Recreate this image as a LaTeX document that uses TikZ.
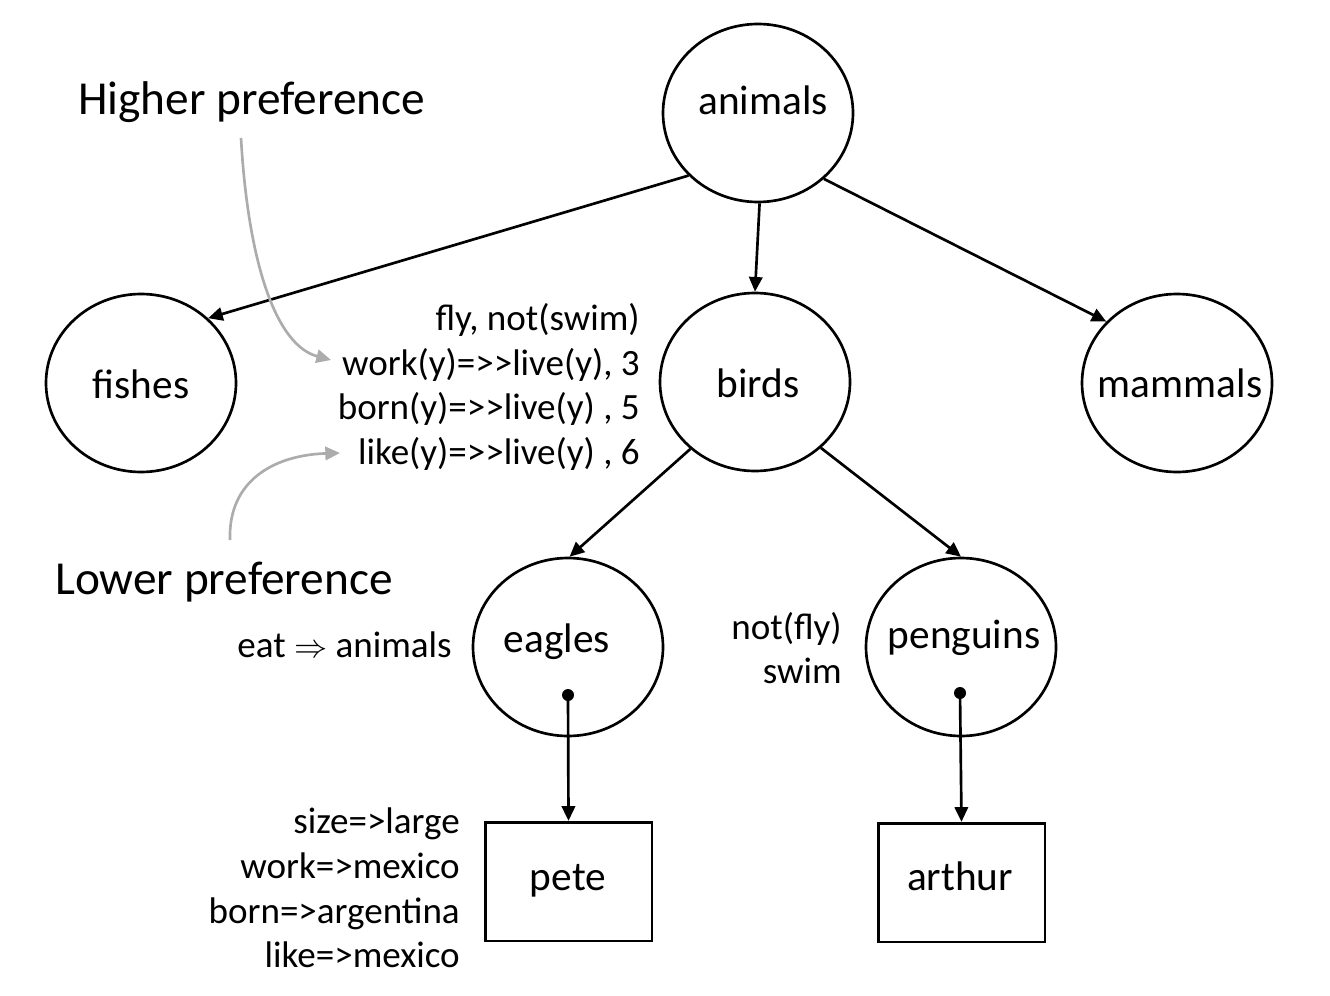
\documentclass[tikz,border=0pt]{standalone}
\usepackage{fontspec}
\setmainfont{Carlito}
\usetikzlibrary{arrows.meta,shapes.geometric}
\begin{document}
\begin{tikzpicture}[x=0.75pt,y=-0.75pt,
 oval/.style={draw,ellipse,line width=2pt,inner sep=0pt,minimum width=142.5pt,minimum height=133.5pt},
 box/.style={draw,rectangle,line width=2pt,inner sep=0pt,minimum width=125pt,minimum height=89pt},
 lbl/.style={inner sep=0pt,anchor=base,font=\fontsize{31}{37}\selectfont},
 side/.style={align=right,anchor=east,inner sep=0pt,font=\fontsize{27.8}{33.5}\selectfont},
 big/.style={inner sep=0pt,anchor=west,font=\fontsize{35.5}{42}\selectfont},
 arr/.style={line width=2pt,-{Triangle[length=11pt,width=10pt]}},
 garr/.style={draw=gray!65,line width=2pt,-{Triangle[length=11pt,width=10pt]}},
 dotc/.style={circle,fill,inner sep=0pt,minimum size=9pt}]
\useasboundingbox (0,0) rectangle (1330,995);
% shapes
\node[oval] (animals) at (758,113) {};
\node[oval] (fishes) at (141,383) {};
\node[oval] (birds) at (755,382) {};
\node[oval] (mammals) at (1177,383) {};
\node[oval] (eagles) at (568,647) {};
\node[oval] (penguins) at (961,647) {};
\node[box] (pete) at (568.5,881.5) {};
\node[box] (arthur) at (961.5,882.5) {};
\node[dotc] (edot) at (568,695) {};
\node[dotc] (pdot) at (960,693) {};
% labels
\node[lbl] (animalsL) at (763,115) {animals};
\node[lbl] (fishesL) at (141,398) {fishes};
\node[lbl] (birdsL) at (758,397) {birds};
\node[lbl] (mammalsL) at (1180,397) {mammals};
\node[lbl] (eaglesL) at (557,652) {eagles};
\node[lbl] (penguinsL) at (964,648) {penguins};
\node[lbl] (peteL) at (568,890) {pete};
\node[lbl] (arthurL) at (960,890) {arthur};
% side texts
\node[side] (rules) at (640,387) {fly, not(swim)\\work(y)=>\kern0pt>live(y), 3\\born(y)=>\kern0pt>live(y) , 5\\like(y)=>\kern0pt>live(y) , 6};
\node[side] (eat) at (452,645) {eat $\Rightarrow$ animals};
\node[side] (notfly) at (842,648) {not(fly)\\swim};
\node[side] (attrs) at (460,888) {size=>large\\work=>mexico\\born=>argentina\\like=>mexico};
\node[big] (higher) at (78,102) {Higher preference};
\node[big] (lower) at (55,582) {Lower preference};
% connectors
\draw[arr] (animals.222) -- (fishes.44);
\draw[arr] (animals.271) -- (birds.90);
\draw[arr] (animals.315) -- (mammals.139);
\draw[arr] (birds.226) -- (eagles.89);
\draw[arr] (birds.315) -- (penguins.90);
\draw[arr] (edot.center) -- (pete.north);
\draw[arr] (pdot.center) -- (arthur.north);
% gray pointers
\coordinate (hstart) at (241,138);
\coordinate (hend) at (331,360);
\coordinate (lstart) at (230,540);
\coordinate (lend) at (340,453);
\draw[garr] (hstart) .. controls (248,260) and (275,345) .. (hend);
\draw[garr] (lstart) .. controls (228,480) and (275,455) .. (lend);
\end{tikzpicture}
\end{document}
